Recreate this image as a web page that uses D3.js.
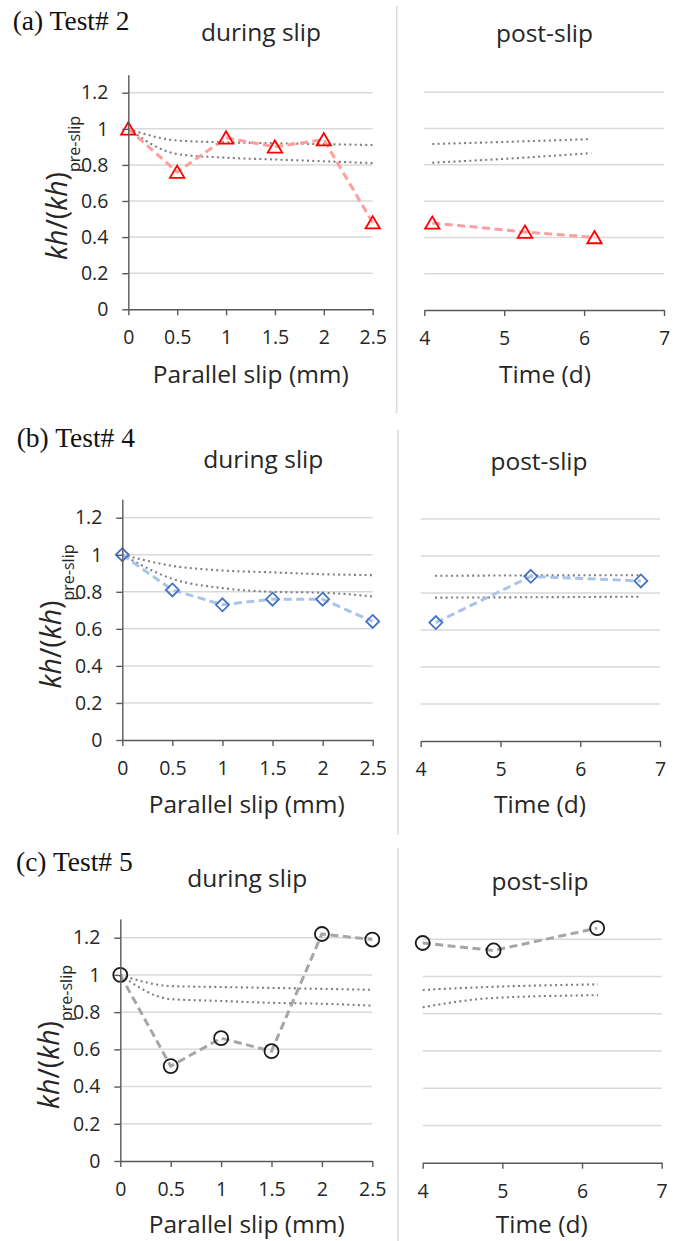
<!DOCTYPE html>
<html>
<head>
<meta charset="utf-8">
<script src="https://cdn.jsdelivr.net/npm/d3@7"></script>
<style>
  html, body { margin: 0; padding: 0; background: #fff; }
  svg { display: block; }
  text { font-family: "Open Sans", "Noto Sans", sans-serif; }
</style>
</head>
<body>
<svg id="chart" width="683" height="1241"></svg>
<script>
// ---------------- DATA ----------------
const panelLabels = ["(a) Test# 2", "(b) Test# 4", "(c) Test# 5"];
const duringTitle = "during slip";
const postTitle = "post-slip";
const xTitleSlip = "Parallel slip (mm)";
const xTitleTime = "Time (d)";

const slipX = [0, 0.5, 1, 1.5, 2, 2.5];
const slipTicks = [0, 0.5, 1, 1.5, 2, 2.5];
const timeTicks = [4, 5, 6, 7];
const yTicks = [0, 0.2, 0.4, 0.6, 0.8, 1, 1.2];

// Test 2
const t2During = [1.0, 0.76, 0.95, 0.90, 0.94, 0.48];
const t2DuringUpper = [1.0, 0.935, 0.925, 0.92, 0.915, 0.91];
const t2DuringLower = [1.0, 0.86, 0.84, 0.83, 0.82, 0.81];
const t2PostT = [4.1, 5.26, 6.13];
const t2Post = [0.48, 0.43, 0.40];
const t2PostRefT = [4.1, 5.26, 6.09];
const t2PostUpper = [0.915, 0.93, 0.942];
const t2PostLower = [0.812, 0.84, 0.865];

// Test 4
const t4During = [1.0, 0.81, 0.73, 0.76, 0.76, 0.64];
const t4DuringUpper = [1.0, 0.94, 0.915, 0.905, 0.895, 0.89];
const t4DuringLower = [1.0, 0.87, 0.82, 0.80, 0.795, 0.775];
const t4PostT = [4.19, 5.38, 6.76];
const t4Post = [0.64, 0.89, 0.865];
const t4PostRefT = [4.18, 5.38, 6.75];
const t4PostUpper = [0.893, 0.895, 0.896];
const t4PostLower = [0.775, 0.777, 0.78];

// Test 5
const t5During = [1.0, 0.51, 0.66, 0.59, 1.22, 1.19];
const t5DuringUpper = [1.0, 0.94, 0.935, 0.93, 0.925, 0.92];
const t5DuringLower = [1.0, 0.87, 0.86, 0.85, 0.845, 0.835];
const t5PostT = [4.0, 4.89, 6.19];
const t5Post = [1.18, 1.14, 1.26];
const t5PostRefT = [4.0, 4.89, 6.2];
const t5PostUpper = [0.928, 0.945, 0.958];
const t5PostLower = [0.835, 0.885, 0.90];

// ---------------- STYLE / LAYOUT ----------------
const styles = [
  { marker: "triangle", stroke: "#ff0000", line: "#ff9e9e" },
  { marker: "diamond",  stroke: "#4472c4", line: "#a9c3ea" },
  { marker: "circle",   stroke: "#1a1a1a", line: "#a6a6a6" }
];

const layouts = [
  { label:[12.7,30], lx0:128.3, lx1:372.7, rx0:424.3, rx1:664, y0:309.3, y12:92.7, ry0:310, ry12:92.3,
    during:[261,40.7], post:[544.5,41.7], xtL:[250.8,383.3], xtR:[545,383.3], ytY:188, sep:[396.7,6,413] },
  { label:[16.7,446.7], lx0:122.3, lx1:372.7, rx0:420.7, rx1:660, y0:740, y12:517.7, ry0:741, ry12:519,
    during:[263.3,468.3], post:[539,470], xtL:[246.7,813], xtR:[540,813], ytY:616.5, sep:[398,430,835] },
  { label:[16,870.7], lx0:120.3, lx1:372.3, rx0:422.7, rx1:661.7, y0:1161, y12:937.7, ry0:1162.7, ry12:939.3,
    during:[247.2,887.3], post:[540,890], xtL:[246.7,1233], xtR:[541.7,1233], ytY:1037, sep:[398,848,1241] }
];

const panels = [
  { during: t2During, dU: t2DuringUpper, dL: t2DuringLower, postT: t2PostT, post: t2Post, refT: t2PostRefT, pU: t2PostUpper, pL: t2PostLower },
  { during: t4During, dU: t4DuringUpper, dL: t4DuringLower, postT: t4PostT, post: t4Post, refT: t4PostRefT, pU: t4PostUpper, pL: t4PostLower },
  { during: t5During, dU: t5DuringUpper, dL: t5DuringLower, postT: t5PostT, post: t5Post, refT: t5PostRefT, pU: t5PostUpper, pL: t5PostLower }
];

const svg = d3.select("#chart");
svg.append("rect").attr("width", 683).attr("height", 1241).attr("fill", "#fff");

const AXIS = "#595959", GRID = "#d9d9d9", TXT = "#262626";
const TICK_FS = 19.5, TITLE_FS = 24.5;
const fmt = d3.format("~g");

function markerPath(type) {
  if (type === "triangle") return "M0,-6.5L7.2,5.8L-7.2,5.8Z";
  if (type === "diamond") return "M0,-6.5L6.5,0L0,6.5L-6.5,0Z";
  return d3.symbol(d3.symbolCircle, Math.PI * 49)();
}

function drawSeries(g, xs, ys, x, y, st) {
  const pts = xs.map((d, i) => [x(d), y(ys[i])]);
  g.append("path").attr("d", d3.line()(pts))
    .attr("fill", "none").attr("stroke", st.line).attr("stroke-width", 3)
    .attr("stroke-dasharray", "8,4.5");
  g.selectAll(null).data(pts).enter().append("path")
    .attr("d", markerPath(st.marker))
    .attr("transform", d => `translate(${d[0]},${d[1]})`)
    .attr("fill", "none").attr("stroke", st.stroke).attr("stroke-width", 1.8);
}

function drawRef(g, xs, ys, x, y) {
  const pts = xs.map((d, i) => [x(d), y(ys[i])]);
  g.append("path").attr("d", d3.line().curve(d3.curveMonotoneX)(pts))
    .attr("fill", "none").attr("stroke", "#7f7f7f").attr("stroke-width", 2.1)
    .attr("stroke-dasharray", "2,3.3");
}

function styleTicks(a) {
  a.select(".domain").attr("stroke", AXIS).attr("stroke-width", 1.4);
  a.selectAll(".tick line").attr("stroke", AXIS).attr("stroke-width", 1.4);
  a.selectAll(".tick text").attr("fill", TXT).attr("font-size", TICK_FS)
    .style("font-family", "'Open Sans', sans-serif");
}

panels.forEach((p, i) => {
  const L = layouts[i], st = styles[i];
  const g = svg.append("g");

  // separator
  g.append("line").attr("x1", L.sep[0]).attr("x2", L.sep[0]).attr("y1", L.sep[1]).attr("y2", L.sep[2])
    .attr("stroke", "#d9d9d9").attr("stroke-width", 1.5);

  // panel label
  g.append("text").attr("x", L.label[0]).attr("y", L.label[1])
    .style("font-family", "'Liberation Serif', 'Times New Roman', serif")
    .attr("font-size", 27.5).attr("fill", "#111").text(panelLabels[i]);

  // ----- LEFT (during slip) -----
  const xL = d3.scaleLinear().domain([0, 2.5]).range([L.lx0, L.lx1]);
  const yL = d3.scaleLinear().domain([0, 1.2]).range([L.y0, L.y12]);

  g.append("g").selectAll("line").data(yTicks.filter(d => d > 0)).enter().append("line")
    .attr("x1", L.lx0).attr("x2", L.lx1).attr("y1", d => yL(d)).attr("y2", d => yL(d))
    .attr("stroke", GRID).attr("stroke-width", 1.5);

  const refL = g.append("g");
  drawRef(refL, slipX, p.dU, xL, yL);
  drawRef(refL, slipX, p.dL, xL, yL);
  drawSeries(g.append("g"), slipX, p.during, xL, yL, st);

  const yAxisScale = d3.scaleLinear().domain([0, 1.3]).range([L.y0, L.y0 - 1.3 * (L.y0 - L.y12) / 1.2]);
  const ya = g.append("g").attr("transform", `translate(${L.lx0},0)`)
    .call(d3.axisLeft(yAxisScale).tickValues(yTicks).tickFormat(fmt).tickSize(6).tickSizeOuter(0).tickPadding(14));
  const xa = g.append("g").attr("transform", `translate(0,${L.y0})`)
    .call(d3.axisBottom(xL).tickValues(slipTicks).tickFormat(fmt).tickSize(6).tickSizeOuter(0).tickPadding(15));
  styleTicks(ya); styleTicks(xa);

  g.append("text").attr("x", L.during[0]).attr("y", L.during[1]).attr("text-anchor", "middle")
    .attr("font-size", TITLE_FS).attr("fill", TXT).text(duringTitle);
  g.append("text").attr("x", L.xtL[0]).attr("y", L.xtL[1]).attr("text-anchor", "middle")
    .attr("font-size", TITLE_FS).attr("fill", TXT).text(xTitleSlip);

  // y title
  const yt = g.append("text")
    .attr("transform", `translate(${L.lx0 - 61},${L.ytY}) rotate(-90)`)
    .attr("text-anchor", "middle").attr("fill", TXT).attr("font-size", 28.5);
  yt.append("tspan").attr("font-style", "italic").text("kh");
  yt.append("tspan").text("/(");
  yt.append("tspan").attr("font-style", "italic").text("kh");
  yt.append("tspan").text(")");
  yt.append("tspan").attr("font-size", 16).attr("dy", 13).text("pre-slip");

  // ----- RIGHT (post-slip) -----
  const xR = d3.scaleLinear().domain([4, 7]).range([L.rx0, L.rx1]);
  const yR = d3.scaleLinear().domain([0, 1.2]).range([L.ry0, L.ry12]);

  g.append("g").selectAll("line").data(yTicks.filter(d => d > 0)).enter().append("line")
    .attr("x1", L.rx0).attr("x2", L.rx1).attr("y1", d => yR(d)).attr("y2", d => yR(d))
    .attr("stroke", GRID).attr("stroke-width", 1.5);

  const refR = g.append("g");
  drawRef(refR, p.refT, p.pU, xR, yR);
  drawRef(refR, p.refT, p.pL, xR, yR);
  drawSeries(g.append("g"), p.postT, p.post, xR, yR, st);

  const xra = g.append("g").attr("transform", `translate(0,${L.ry0})`)
    .call(d3.axisBottom(xR).tickValues(timeTicks).tickFormat(fmt).tickSize(6).tickSizeOuter(0).tickPadding(15));
  styleTicks(xra);

  g.append("text").attr("x", L.post[0]).attr("y", L.post[1]).attr("text-anchor", "middle")
    .attr("font-size", TITLE_FS).attr("fill", TXT).text(postTitle);
  g.append("text").attr("x", L.xtR[0]).attr("y", L.xtR[1]).attr("text-anchor", "middle")
    .attr("font-size", TITLE_FS).attr("fill", TXT).text(xTitleTime);
});
</script>
</body>
</html>
